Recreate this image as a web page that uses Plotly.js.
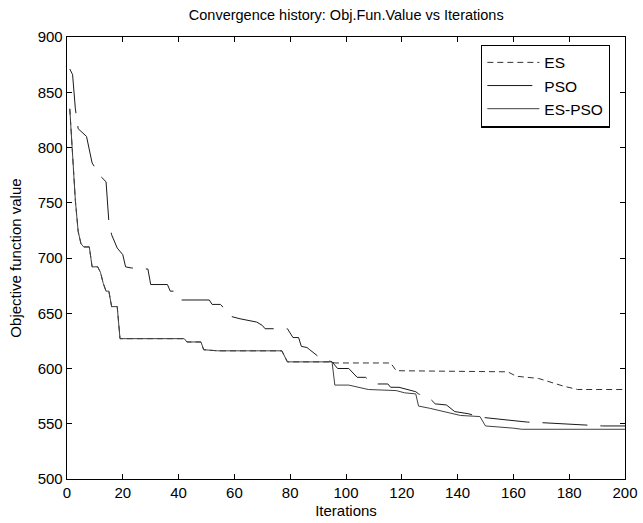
<!DOCTYPE html>
<html>
<head>
<meta charset="utf-8">
<script src="https://cdn.plot.ly/plotly-3.0.1.min.js"></script>
<style>html,body{margin:0;padding:0;background:#fff;}#chart{width:643px;height:523px;}</style>
</head>
<body>
<div id="chart"></div>
<script>
// ES-PSO (ES phase first, identical to ES up to iteration 95)
var esPsoIter = [1, 2, 3, 4, 5, 6, 8, 9, 11, 12, 13, 14, 15, 16, 18, 19, 42, 43, 48, 49, 54, 77, 79, 95, 96, 101, 104, 108, 118, 121, 125, 126, 130, 136, 141, 148, 150, 160, 163, 200];
var esPsoVal  = [835, 793, 752, 724, 713, 710, 710, 692, 692, 687, 677, 670, 670, 656, 656, 627, 627, 624, 624, 617, 616, 616, 606, 606, 585, 585, 583, 581, 580, 578, 577, 566, 564, 560.5, 557.5, 556.5, 548, 546, 545, 545];

// ES continues after iteration 95
var esTailIter = [96, 116, 118, 158, 161, 169, 171, 175, 178, 183, 200];
var esTailVal  = [605, 605, 598, 597, 593, 591, 589.5, 586, 584, 581, 581];

// PSO
var psoIter = [1, 2, 3, 4, 7, 9, 12, 14, 15, 16, 18, 20, 21, 23, 29, 30, 36, 37, 39, 41, 51, 52, 55, 56, 59, 62, 68, 70, 71, 74, 79, 81, 83, 84, 86, 87, 89, 91, 95, 97, 101, 104, 107, 110, 115, 116, 119, 125, 126, 130, 132, 136, 139, 144, 148, 150, 165, 170, 174, 186, 192, 200];
var psoVal  = [871, 866, 835, 817, 810, 786, 774, 769, 733, 721, 709, 703, 692, 691, 690, 676, 676, 670, 670, 662, 662, 658, 658, 655, 647, 645, 642, 639, 636, 636, 636, 628, 628, 620, 619, 617, 613, 609, 606, 600, 600, 592, 592, 586, 586, 583, 583, 579, 577, 573, 568, 567, 561, 559, 556, 555.5, 551.5, 551, 550.5, 549, 548, 548];

var xTicks = [0, 20, 40, 60, 80, 100, 120, 140, 160, 180, 200];
var yTicks = [500, 550, 600, 650, 700, 750, 800, 850, 900];

// ES = shared ES phase + its own continuation
var esIter = [], esVal = [];
for (var i = 0; i < esPsoIter.length; i++) {
  if (esPsoIter[i] <= 95) { esIter.push(esPsoIter[i]); esVal.push(esPsoVal[i]); }
}
esIter = esIter.concat(esTailIter);
esVal = esVal.concat(esTailVal);

var font = "'Liberation Sans', Arial, Helvetica, sans-serif";

var traces = [
  {x: esIter, y: esVal, name: 'ES', mode: 'lines',
   line: {color: '#333333', width: 1, dash: '6px,4px'}},
  {x: psoIter, y: psoVal, name: 'PSO', mode: 'lines',
   line: {color: '#1a1a1a', width: 1, dash: '45px,13px'}},
  {x: esPsoIter, y: esPsoVal, name: 'ES-PSO', mode: 'lines',
   line: {color: '#404040', width: 1}}
];

var axisCommon = {
  showline: true, linecolor: '#000', linewidth: 1.3, mirror: 'allticks',
  ticks: 'inside', ticklen: 5, tickwidth: 1, tickcolor: '#000',
  showgrid: false, zeroline: false,
  tickfont: {family: font, size: 15, color: '#000'}
};

var layout = {
  width: 643, height: 523,
  margin: {l: 67, r: 18, t: 37, b: 44},
  paper_bgcolor: '#fff', plot_bgcolor: '#fff',
  font: {family: font, color: '#000'},
  title: {text: 'Convergence history: Obj.Fun.Value vs Iterations',
          font: {family: font, size: 14.5, color: '#000'},
          x: 0.5385, xanchor: 'center', y: 0.972, yanchor: 'middle'},
  xaxis: Object.assign({}, axisCommon, {
    range: [0, 200], tickvals: xTicks, ticktext: xTicks.map(String),
    title: {text: 'Iterations', font: {family: font, size: 15, color: '#000'}, standoff: 5}
  }),
  yaxis: Object.assign({}, axisCommon, {
    range: [500, 900], tickvals: yTicks, ticktext: yTicks.map(String),
    title: {text: 'Objective function value', font: {family: font, size: 15, color: '#000'}, standoff: 12}
  }),
  showlegend: true,
  legend: {
    x: 0.742, y: 0.983, xanchor: 'left', yanchor: 'top',
    bordercolor: '#000', borderwidth: 1.3, bgcolor: '#fff',
    font: {family: font, size: 15.5, color: '#000'},
    itemwidth: 52, tracegroupgap: 0
  }
};

Plotly.newPlot('chart', traces, layout, {staticPlot: true, displayModeBar: false});
</script>
</body>
</html>
